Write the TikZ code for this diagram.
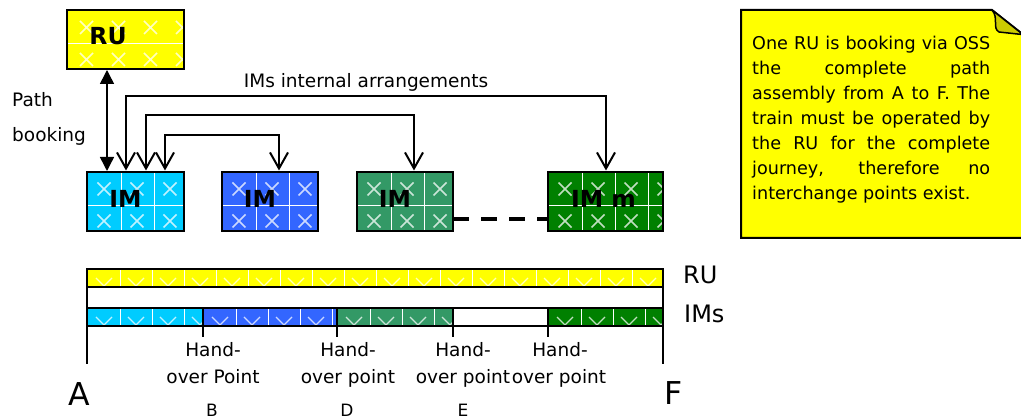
\documentclass[tikz,border=0pt]{standalone}
\usepackage{fontspec}
\setmainfont{DejaVu Sans}
\usetikzlibrary{arrows.meta}
\definecolor{ruyellow}{HTML}{FFFF00}
\definecolor{imcyan}{HTML}{00CCFF}
\definecolor{imblue}{HTML}{3366FF}
\definecolor{imgreen}{HTML}{339966}
\definecolor{imdark}{HTML}{008000}
\definecolor{foldc}{HTML}{CCCC00}
\tikzset{
  fillbox/.style={draw=none, inner sep=0pt, outer sep=0pt, anchor=north west, minimum height=59pt},
  barnode/.style={draw=none, inner sep=0pt, outer sep=0pt, anchor=north west, minimum height=18pt},
  boxborder/.style={draw=black, line width=2pt},
  gridline/.style={draw=white, line width=1pt},
  xmk/.style={draw=white, draw opacity=0.75, line width=1.6pt},
  vmk/.style={draw=white, draw opacity=0.75, line width=1.3pt},
  boldlab/.style={font=\fontsize{23.5}{26}\selectfont\bfseries, inner sep=0pt, anchor=base},
  txt/.style={font=\fontsize{18.5}{22}\selectfont, inner sep=0pt, anchor=base},
  smalltxt/.style={font=\fontsize{17}{20}\selectfont, inner sep=0pt, anchor=base},
  sidetxt/.style={font=\fontsize{24}{28}\selectfont, inner sep=0pt, anchor=base west},
  endtxt/.style={font=\fontsize{31.5}{36}\selectfont, inner sep=0pt, anchor=base},
  oarr/.style={line width=2pt, {Straight Barb[length=16pt,width=18pt]}-{Straight Barb[length=16pt,width=18pt]}, shorten <=1.5pt, shorten >=1.5pt},
  pbarr/.style={line width=1.5pt, {Triangle[length=14pt,width=14pt]}-{Triangle[length=14pt,width=14pt]}, shorten <=1pt, shorten >=1pt},
  dashline/.style={line width=4pt, dash pattern=on 16pt off 12pt},
  vline/.style={draw=black, line width=1.8pt},
  notetxt/.style={font=\fontsize{17.6}{25}\selectfont, inner sep=0pt, anchor=base west, text width=238pt, align=justify}
}
\newcommand\drawimbox[4]{%
  \node[fillbox, fill=#4, minimum width=#3pt] (#1) at (#2,172) {};
  \begin{scope}
    \clip (#2,172) rectangle (#2+#3,231);
    \foreach \k in {0,1,2,3} {
      \draw[gridline] (#2+34+33*\k,172) -- (#2+34+33*\k,231);
      \foreach \cy in {189,221} {
        \draw[xmk] (#2+17+33*\k-6.5,\cy-6.5) -- ++(13,13)
                   (#2+17+33*\k-6.5,\cy+6.5) -- ++(13,-13);
      }
    }
    \draw[gridline] (#2,206) -- (#2+#3,206);
  \end{scope}
  \draw[boxborder] (#1.north west) rectangle (#1.south east);
}
\newcommand\drawsegpat[2]{%
  \begin{scope}
    \clip (#1,308) rectangle (#2,326);
    \foreach \k in {0,...,4} {
      \draw[gridline] (#1+33+32*\k,308) -- (#1+33+32*\k,326);
      \draw[vmk] (#1+17+32*\k-8,317) -- (#1+17+32*\k,325) -- (#1+17+32*\k+8,317);
    }
  \end{scope}
}
\begin{document}
\begin{tikzpicture}[x=1pt,y=-1pt]
\useasboundingbox (0,0) rectangle (1021,419);
\clip (0,0) rectangle (1021,419);

% ---------- RU box ----------
\node[fillbox, fill=ruyellow, minimum width=117pt] (ru) at (67,10) {};
\begin{scope}
  \clip (67,10) rectangle (184,69);
  \draw[gridline] (67,43.5) -- (184,43.5);
  \foreach \k in {0,...,3} \foreach \cy in {27.5,59.5} {
    \draw[xmk] (86.5+32*\k-6.5,\cy-6.5) -- ++(13,13)
               (86.5+32*\k-6.5,\cy+6.5) -- ++(13,-13);
  }
\end{scope}
\draw[boxborder] (ru.north west) rectangle (ru.south east);
\node[boldlab] (rulab) at (108,45) {RU};

% ---------- IM boxes ----------
\drawimbox{im1}{87}{97}{imcyan}
\drawimbox{im2}{222}{96}{imblue}
\drawimbox{im3}{357}{96}{imgreen}
\drawimbox{imm}{548}{115}{imdark}
\node[boldlab] (im1lab) at (125.5,208) {IM};
\node[boldlab] (im2lab) at (260,208) {IM};
\node[boldlab] (im3lab) at (395,208) {IM};
\node[boldlab] (immlab) at (603.5,208) {IM m};

% ---------- connectors ----------
\coordinate (pbx) at (107,0);
\draw[pbarr] (ru.south -| pbx) -- (im1.north -| pbx);
\node[txt, anchor=base west] (pathlab) at (12,107) {Path};
\node[txt, anchor=base west] (booklab) at (12,142) {booking};

\coordinate (o1) at (126,96);  \coordinate (o2) at (606,96);
\coordinate (m1) at (146,115); \coordinate (m2) at (414,115);
\coordinate (n1) at (165,135); \coordinate (n2) at (279,135);
\draw[oarr] (im1.north -| o1) -- (o1) -- (o2) -- (imm.north -| o2);
\draw[oarr] (im1.north -| m1) -- (m1) -- (m2) -- (im3.north -| m2);
\draw[oarr] (im1.north -| n1) -- (n1) -- (n2) -- (im2.north -| n2);
\node[txt] (imsarr) at (366,88) {IMs internal arrangements};

\coordinate (dl) at (0,219);
\draw[dashline] (im3.east |- dl) -- (imm.west |- dl);

% ---------- RU bar ----------
\node[barnode, fill=ruyellow, minimum width=576pt] (rubar) at (87,269) {};
\begin{scope}
  \clip (87,269) rectangle (663,287);
  \foreach \k in {0,...,17} {
    \draw[gridline] (120+32*\k,269) -- (120+32*\k,287);
    \draw[vmk] (104+32*\k-8,278) -- (104+32*\k,286) -- (104+32*\k+8,278);
  }
\end{scope}
\draw[boxborder] (rubar.north west) rectangle (rubar.south east);

% ---------- IMs bar ----------
\node[barnode, fill=imcyan, minimum width=116pt] (seg1) at (87,308) {};
\node[barnode, fill=imblue, minimum width=134pt] (seg2) at (203,308) {};
\node[barnode, fill=imgreen, minimum width=116pt] (seg3) at (337,308) {};
\node[barnode, fill=white, minimum width=95pt] (seg4) at (453,308) {};
\node[barnode, fill=imdark, minimum width=115pt] (seg5) at (548,308) {};
\drawsegpat{87}{203}
\drawsegpat{203}{337}
\drawsegpat{337}{453}
\drawsegpat{548}{663}
\draw[boxborder] (seg1.north west) rectangle (seg5.south east);
\foreach \s in {seg2,seg3,seg4,seg5} {
  \draw[boxborder] (\s.north west) -- ++(0,29);
}

% ---------- A / F lines ----------
\coordinate (aend) at (87,364);
\coordinate (fend) at (663,364);
\draw[vline] (rubar.north west) -- (aend);
\draw[vline] (rubar.north east) -- (fend);

\node[sidetxt] (rulabel) at (683,284) {RU};
\node[sidetxt] (imslabel) at (684,323) {IMs};

% ---------- hand-over labels ----------
\node[txt] (h1a) at (213,357) {Hand-};
\node[txt] (h1b) at (213,384) {over Point};
\node[txt] (h2a) at (348,357) {Hand-};
\node[txt] (h2b) at (348,384) {over point};
\node[txt] (h3a) at (463,357) {Hand-};
\node[txt] (h3b) at (463,384) {over point};
\node[txt] (h4a) at (560,357) {Hand-};
\node[txt] (h4b) at (559,384) {over point};
\node[smalltxt] (lb) at (212,416.5) {B};
\node[smalltxt] (ld) at (347,416.5) {D};
\node[smalltxt] (le) at (463,416.5) {E};
\node[endtxt] (la) at (79,406) {A};
\node[endtxt] (lf) at (674,405) {F};

% ---------- note ----------
\path[draw=black, line width=2pt, fill=ruyellow]
  (741,238) -- (741,10) -- (992,10) -- (1030,40) -- (1030,238) -- cycle;
\path[draw=black, line width=1.5pt, fill=foldc, line join=round]
  (992,10) .. controls (999,18) and (992,28) .. (999,32) -- (1023,34.6) -- cycle;
\node[notetxt] (note) at (752,50) {One RU is booking via OSS\linebreak
the complete path\linebreak
assembly from A to F. The\linebreak
train must be operated by\linebreak
the RU for the complete\linebreak
journey, therefore no\linebreak
interchange points exist.};
\end{tikzpicture}
\end{document}
